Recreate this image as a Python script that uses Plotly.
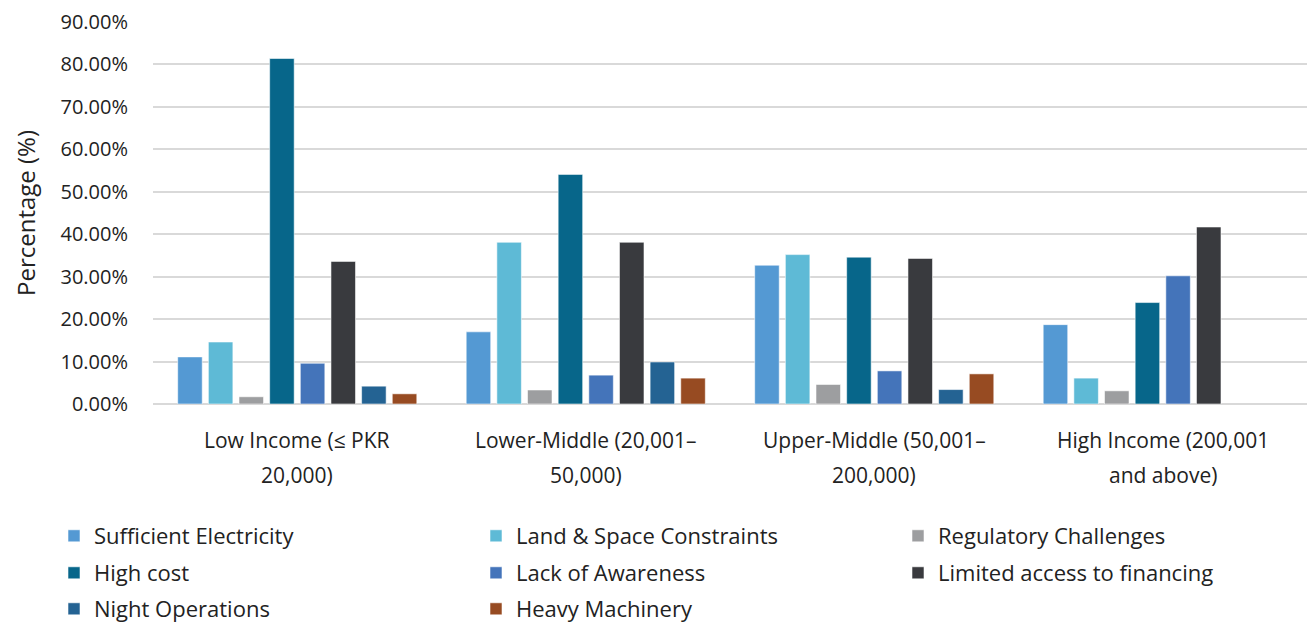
import plotly.graph_objects as go

# Income groups (x categories) and their two-line axis labels
categories = [
    "Low Income (≤ PKR 20,000)",
    "Lower-Middle (20,001–50,000)",
    "Upper-Middle (50,001–200,000)",
    "High Income (200,001 and above)",
]
label_line1 = ["Low Income (≤ PKR", "Lower-Middle (20,001–", "Upper-Middle (50,001–", "High Income (200,001"]
label_line2 = ["20,000)", "50,000)", "200,000)", "and above)"]

# Share of respondents citing each barrier, per income group
sufficient_electricity = [0.111, 0.170, 0.327, 0.187]
land_space = [0.146, 0.381, 0.352, 0.061]
regulatory = [0.017, 0.033, 0.046, 0.031]
high_cost = [0.814, 0.541, 0.346, 0.239]
lack_awareness = [0.096, 0.068, 0.078, 0.302]
limited_financing = [0.336, 0.381, 0.343, 0.417]
night_operations = [0.042, 0.099, 0.034, None]
heavy_machinery = [0.024, 0.061, 0.071, None]

series = [
    ("Sufficient Electricity", sufficient_electricity, "#5499D3"),
    ("Land & Space Constraints", land_space, "#5EBAD6"),
    ("Regulatory Challenges", regulatory, "#9D9EA0"),
    ("High cost", high_cost, "#07668A"),
    ("Lack of Awareness", lack_awareness, "#4474BA"),
    ("Limited access to financing", limited_financing, "#393A3E"),
    ("Night Operations", night_operations, "#246393"),
    ("Heavy Machinery", heavy_machinery, "#974B22"),
]

FONT = "Open Sans, Lato, sans-serif"
TEXT = "#222222"

# Plot area in pixels (used to place legend entries on a 3-column grid)
L, R, T, B = 153, 2, 22, 222
W, H = 1309, 626
plot_w = W - L - R
plot_h = H - T - B
col_px = [54, 476, 898]
row_px = [536, 573, 609]

fig = go.Figure()
legend_layouts = {}
for i, (name, vals, color) in enumerate(series):
    key = "legend" if i == 0 else f"legend{i + 1}"
    fig.add_trace(go.Bar(
        name=name, x=categories, y=vals, legend=key,
        marker=dict(color=color, line=dict(color="rgba(255,255,255,0.55)", width=1)),
    ))
    r, c = divmod(i, 3)
    legend_layouts[key] = dict(
        orientation="h", xref="paper", yref="paper",
        x=(col_px[c] - L) / plot_w, xanchor="left",
        y=(H - B - row_px[r]) / plot_h, yanchor="middle",
        font=dict(family=FONT, size=22, color=TEXT), bgcolor="rgba(0,0,0,0)",
        itemclick=False, itemdoubleclick=False,
    )

# Two-line category labels with wide line spacing
for cat, l1, l2 in zip(categories, label_line1, label_line2):
    for text, shift in ((l1, -36), (l2, -71)):
        fig.add_annotation(
            x=cat, xref="x", y=0, yref="paper", yshift=shift,
            text=text, showarrow=False, yanchor="middle", xanchor="center",
            font=dict(family=FONT, size=21, color=TEXT),
        )

fig.update_layout(
    width=W, height=H,
    margin=dict(l=L, r=R, t=T, b=B, autoexpand=False),
    paper_bgcolor="white", plot_bgcolor="white",
    barmode="group", bargap=0.15, bargroupgap=0.2,
    font=dict(family=FONT, color=TEXT),
    xaxis=dict(showticklabels=False, showline=False, ticks=""),
    yaxis=dict(
        range=[0, 0.9], dtick=0.1, tickformat=".2%",
        showgrid=True, gridcolor="#D9D9D9", gridwidth=2,
        zeroline=True, zerolinecolor="#D9D9D9", zerolinewidth=2,
        tickfont=dict(family=FONT, size=20, color=TEXT), ticks="", ticklen=0,
        ticklabelstandoff=24,
        title=dict(text="Percentage (%)", font=dict(family=FONT, size=24, color=TEXT), standoff=18),
    ),
    showlegend=True,
    **legend_layouts,
)

fig.write_html("out.html")
